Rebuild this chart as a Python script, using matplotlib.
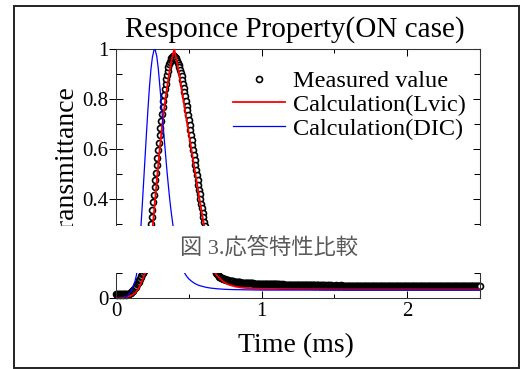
import numpy as np
import matplotlib
matplotlib.use("Agg")
import matplotlib.pyplot as plt
from matplotlib.patches import Rectangle
from matplotlib.ticker import MultipleLocator, FuncFormatter, NullFormatter

# ---------------------------------------------------------------
# data
# ---------------------------------------------------------------
sample_step = 0.005  # ms between measured samples

measured_v = [
    0.017, 0.015, 0.016, 0.018, 0.016, 0.015, 0.017, 0.016, 0.018, 0.016, 0.015, 0.017, 0.016, 0.017, 0.015, 0.017, 0.016, 0.018, 0.019, 0.021,
    0.023, 0.025, 0.028, 0.031, 0.034, 0.038, 0.042, 0.046, 0.051, 0.056, 0.061, 0.067, 0.073, 0.079, 0.085, 0.091, 0.097, 0.103, 0.110, 0.118,
    0.127, 0.140, 0.156, 0.174, 0.195, 0.218, 0.243, 0.270, 0.298, 0.327, 0.356, 0.385, 0.415, 0.445, 0.475, 0.505, 0.535, 0.565, 0.595, 0.625,
    0.655, 0.684, 0.712, 0.740, 0.767, 0.793, 0.818, 0.841, 0.862, 0.881, 0.898, 0.913, 0.927, 0.939, 0.950, 0.959, 0.966, 0.971, 0.974, 0.975,
    0.974, 0.971, 0.967, 0.961, 0.954, 0.946, 0.937, 0.927, 0.916, 0.904, 0.891, 0.877, 0.862, 0.846, 0.829, 0.811, 0.793, 0.774, 0.755, 0.736,
    0.716, 0.696, 0.676, 0.656, 0.636, 0.616, 0.596, 0.576, 0.556, 0.536, 0.516, 0.496, 0.476, 0.456, 0.436, 0.417, 0.398, 0.379, 0.361, 0.343,
    0.325, 0.308, 0.291, 0.275, 0.259, 0.244, 0.229, 0.215, 0.201, 0.188, 0.175, 0.163, 0.152, 0.141, 0.131, 0.122, 0.114, 0.107, 0.101, 0.097,
    0.092, 0.089, 0.087, 0.085, 0.083, 0.082, 0.080, 0.079, 0.078, 0.077, 0.076, 0.075, 0.074, 0.073, 0.072, 0.071, 0.071, 0.070, 0.069, 0.069,
    0.068, 0.068, 0.067, 0.067, 0.066, 0.066, 0.065, 0.065, 0.064, 0.064, 0.064, 0.063, 0.063, 0.063, 0.062, 0.062, 0.062, 0.062, 0.061, 0.061,
    0.061, 0.061, 0.061, 0.060, 0.060, 0.060, 0.060, 0.060, 0.060, 0.059, 0.059, 0.059, 0.059, 0.059, 0.059, 0.059, 0.058, 0.058, 0.058, 0.058,
    0.058, 0.058, 0.058, 0.057, 0.058, 0.057, 0.057, 0.058, 0.057, 0.057, 0.056, 0.057, 0.057, 0.056, 0.057, 0.056, 0.056, 0.057, 0.056, 0.056,
    0.056, 0.056, 0.055, 0.056, 0.056, 0.055, 0.056, 0.055, 0.055, 0.056, 0.055, 0.055, 0.054, 0.055, 0.055, 0.054, 0.055, 0.054, 0.055, 0.054,
    0.054, 0.054, 0.055, 0.054, 0.054, 0.053, 0.054, 0.054, 0.053, 0.054, 0.053, 0.054, 0.053, 0.053, 0.054, 0.053, 0.053, 0.052, 0.053, 0.053,
    0.053, 0.053, 0.052, 0.053, 0.052, 0.053, 0.052, 0.052, 0.053, 0.052, 0.052, 0.053, 0.052, 0.052, 0.051, 0.052, 0.052, 0.053, 0.052, 0.051,
    0.052, 0.052, 0.051, 0.052, 0.052, 0.051, 0.052, 0.051, 0.052, 0.051, 0.051, 0.052, 0.051, 0.052, 0.051, 0.051, 0.052, 0.051, 0.050, 0.051,
    0.051, 0.051, 0.052, 0.051, 0.050, 0.051, 0.051, 0.050, 0.051, 0.052, 0.051, 0.050, 0.051, 0.051, 0.050, 0.051, 0.050, 0.051, 0.051, 0.050,
    0.051, 0.050, 0.051, 0.050, 0.051, 0.051, 0.050, 0.050, 0.051, 0.050, 0.051, 0.050, 0.050, 0.051, 0.050, 0.049, 0.050, 0.051, 0.050, 0.050,
    0.051, 0.050, 0.050, 0.049, 0.050, 0.051, 0.050, 0.050, 0.049, 0.050, 0.050, 0.051, 0.050, 0.049, 0.050, 0.050, 0.050, 0.049, 0.050, 0.051,
    0.050, 0.050, 0.049, 0.050, 0.050, 0.049, 0.050, 0.051, 0.050, 0.049, 0.050, 0.050, 0.049, 0.050, 0.050, 0.049, 0.050, 0.050, 0.051, 0.050,
    0.049, 0.050, 0.050, 0.049, 0.050, 0.049, 0.050, 0.050, 0.049, 0.050, 0.051, 0.050, 0.049, 0.050, 0.049, 0.050, 0.050, 0.049, 0.050, 0.050,
    0.049, 0.050, 0.049, 0.050, 0.050, 0.049, 0.049, 0.050, 0.050, 0.049, 0.050, 0.050, 0.049, 0.050, 0.049, 0.050, 0.051, 0.050, 0.049, 0.050,
    0.049, 0.050, 0.049, 0.049, 0.050, 0.050, 0.049, 0.050, 0.049, 0.050, 0.050, 0.049, 0.050, 0.049, 0.049, 0.050, 0.050, 0.049, 0.050, 0.049,
    0.050, 0.049, 0.050, 0.050, 0.049, 0.050, 0.049, 0.049, 0.050, 0.050, 0.049, 0.050, 0.049, 0.050, 0.050, 0.049, 0.049, 0.050, 0.049, 0.050,
    0.049, 0.050, 0.049, 0.049, 0.050, 0.049, 0.050, 0.050, 0.049, 0.049, 0.050, 0.049, 0.050, 0.049, 0.049, 0.050, 0.049, 0.050, 0.049, 0.049,
    0.050, 0.049, 0.050, 0.049, 0.049, 0.050, 0.049, 0.049, 0.050, 0.049, 0.049, 0.050, 0.049, 0.049, 0.049, 0.050, 0.049, 0.049, 0.050, 0.049,
    0.049,
]
measured_t = np.arange(len(measured_v)) * sample_step

lvic_t = [0.00, 0.03, 0.04, 0.05, 0.06, 0.07, 0.08, 0.09,
          0.10, 0.11, 0.12, 0.13, 0.14, 0.15, 0.16, 0.17, 0.18, 0.19,
          0.20, 0.21, 0.22, 0.23, 0.24, 0.25, 0.26, 0.27, 0.28, 0.29,
          0.30, 0.31, 0.32, 0.33, 0.34, 0.35, 0.36, 0.37, 0.38, 0.39,
          0.40, 0.41, 0.42, 0.43, 0.44, 0.45, 0.46, 0.47, 0.48, 0.49,
          0.50, 0.51, 0.52, 0.53, 0.54, 0.55, 0.56, 0.57, 0.58, 0.59,
          0.60, 0.61, 0.62, 0.63, 0.64, 0.65, 0.66, 0.67, 0.68, 0.69,
          0.70, 0.71, 0.72, 0.73, 0.74, 0.75, 0.76, 0.77, 0.78, 0.79,
          0.80, 0.82, 0.84, 0.86, 0.88, 0.90, 0.95, 1.00, 1.20, 1.50, 2.00, 2.50]
lvic_v = [0.000, 0.000, 0.001, 0.002, 0.003, 0.004, 0.006, 0.008,
          0.010, 0.013, 0.017, 0.021, 0.027, 0.034, 0.045, 0.058, 0.072, 0.087,
          0.103, 0.122, 0.145, 0.175, 0.215, 0.275, 0.340, 0.405, 0.470, 0.535,
          0.598, 0.655, 0.708, 0.757, 0.803, 0.845, 0.883, 0.918, 0.950, 0.978,
          1.000, 0.975, 0.945, 0.912, 0.878, 0.843, 0.807, 0.771, 0.735, 0.699,
          0.663, 0.627, 0.591, 0.555, 0.519, 0.483, 0.447, 0.411, 0.376, 0.342,
          0.309, 0.277, 0.246, 0.216, 0.188, 0.162, 0.139, 0.119, 0.104, 0.094,
          0.087, 0.081, 0.075, 0.070, 0.066, 0.062, 0.059, 0.056, 0.054, 0.052,
          0.050, 0.047, 0.045, 0.043, 0.042, 0.041, 0.039, 0.038, 0.037, 0.036, 0.036, 0.036]

dic_t = [0.00, 0.05, 0.06, 0.07, 0.08, 0.09, 0.10, 0.11, 0.12, 0.13, 0.14,
         0.15, 0.16, 0.17, 0.18, 0.19, 0.20, 0.21, 0.22, 0.23, 0.24, 0.25, 0.26,
         0.265, 0.27, 0.28, 0.29, 0.30, 0.31, 0.32, 0.33, 0.34, 0.35, 0.36,
         0.37, 0.38, 0.39, 0.40, 0.41, 0.42, 0.43, 0.44, 0.45, 0.46, 0.47,
         0.48, 0.49, 0.50, 0.52, 0.54, 0.56, 0.58, 0.60, 0.62, 0.65, 0.70,
         0.75, 0.80, 0.90, 1.00, 1.50, 2.00, 2.50]
dic_v = [0.000, 0.000, 0.002, 0.005, 0.010, 0.017, 0.026, 0.038, 0.052, 0.068, 0.092,
         0.135, 0.200, 0.278, 0.370, 0.470, 0.570, 0.670, 0.765, 0.850, 0.920, 0.968, 0.995,
         1.000, 0.996, 0.972, 0.925, 0.860, 0.790, 0.720, 0.650, 0.580, 0.512, 0.450,
         0.392, 0.342, 0.298, 0.260, 0.226, 0.196, 0.170, 0.148, 0.130, 0.115, 0.103,
         0.093, 0.085, 0.078, 0.068, 0.060, 0.054, 0.050, 0.047, 0.044, 0.041, 0.038,
         0.036, 0.035, 0.034, 0.033, 0.033, 0.033, 0.033]

# ---------------------------------------------------------------
plt.rcParams["font.family"] = ["Liberation Serif", "Noto Sans CJK JP"]

W, H = 520, 369
fig = plt.figure(figsize=(W / 100, H / 100), dpi=100)
fig.patch.set_facecolor("white")

ax = fig.add_axes([116 / W, 1 - 298.3 / H, 364 / W, 249 / H])

ax.plot(measured_t, measured_v, "o", ms=4.3, mfc="white", mec="black",
        mew=1.2, clip_on=False, zorder=2, label="Measured value")
ax.plot(lvic_t, lvic_v, color="#ff0000", lw=1.3, zorder=3,
        label="Calculation(Lvic)")
ax.plot(dic_t, dic_v, color="#0000ff", lw=0.9, zorder=4,
        label="Calculation(DIC)")

ax.set_xlim(0, 2.5)
ax.set_ylim(0, 1)

fmt = FuncFormatter(lambda v, p: f"{v:g}")
ax.xaxis.set_major_locator(MultipleLocator(1))
ax.xaxis.set_minor_locator(MultipleLocator(0.5))
ax.yaxis.set_major_locator(MultipleLocator(0.2))
ax.yaxis.set_minor_locator(MultipleLocator(0.1))
ax.xaxis.set_major_formatter(fmt)
ax.yaxis.set_major_formatter(fmt)

ax.tick_params(axis="y", which="major", direction="inout", length=10,
               width=0.75, labelsize=15, pad=0.5)
ax.tick_params(axis="y", which="minor", direction="in", length=4, width=0.75)
ax.tick_params(axis="x", which="major", direction="in", length=5,
               width=0.75, labelsize=15, pad=3)
ax.tick_params(axis="x", which="minor", direction="in", length=3, width=0.75)
for s in ax.spines.values():
    s.set_linewidth(0.75)
    s.set_color("#333333")

top = ax.secondary_xaxis("top")
top.xaxis.set_major_locator(MultipleLocator(1))
top.xaxis.set_minor_locator(MultipleLocator(0.5))
top.xaxis.set_major_formatter(NullFormatter())
top.tick_params(which="major", direction="in", length=5, width=0.75)
top.tick_params(which="minor", direction="in", length=3, width=0.75)

right = ax.secondary_yaxis("right")
right.yaxis.set_major_locator(MultipleLocator(0.2))
right.yaxis.set_minor_locator(MultipleLocator(0.1))
right.yaxis.set_major_formatter(NullFormatter())
right.tick_params(which="major", direction="in", length=5, width=0.75)
right.tick_params(which="minor", direction="in", length=4.5, width=0.75)
for sec in (top, right):
    for s in sec.spines.values():
        s.set_linewidth(0.75)
        s.set_color("#333333")

ax.legend(loc="upper left", bbox_to_anchor=((233 - 116) / 364, (298.3 - 70) / 249),
          frameon=False, fontsize=17.5, handlelength=2.15, handletextpad=0.3,
          labelspacing=0.08, borderpad=0, borderaxespad=0, numpoints=1)

# titles and labels
fig.text(294.5 / W, 1 - 36.7 / H, "Responce Property(ON case)",
         ha="center", va="baseline", fontsize=21)
fig.text(296 / W, 1 - 352 / H, "Time (ms)", ha="center", va="baseline",
         fontsize=20)
fig.text(73 / W, 1 - 165.5 / H, "Transmittance", rotation=90,
         rotation_mode="anchor", ha="center", va="baseline", fontsize=20,
         zorder=1)

# white caption band laid over the chart
fig.add_artist(Rectangle((0, 1 - 272.7 / H), 1, (272.7 - 226) / H,
                         transform=fig.transFigure, fc="white", ec="none",
                         zorder=5))
fig.text(269 / W, 1 - 248 / H, "図 3.応答特性比較", ha="center", va="center",
         fontsize=16, color="#5a5a5a",
         family=["Liberation Serif", "Noto Sans CJK JP"], zorder=6)

# outer frame
fig.add_artist(Rectangle((14 / W, 1 - 368 / H), 505 / W, 362 / H,
                         transform=fig.transFigure, fill=False, ec="#222222",
                         lw=1.4, zorder=8))

fig.savefig("out.png", dpi=100)
